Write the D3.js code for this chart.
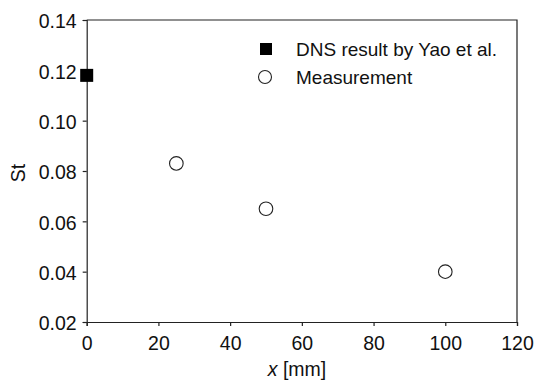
<!DOCTYPE html>
<html>
<head>
<meta charset="utf-8">
<script src="https://cdn.jsdelivr.net/npm/d3@7"></script>
<style>
  body { margin: 0; background: #fff; }
  svg { display: block; font-family: "Liberation Sans", Arial, sans-serif; }
</style>
</head>
<body>
<svg id="chart"></svg>
<script>
const width = 536;
const height = 382;

// data
const dnsX = [0];
const dnsSt = [0.118];
const measX = [25, 50, 100];
const measSt = [0.083, 0.065, 0.040];
const xTicks = [0, 20, 40, 60, 80, 100, 120];
const yTicks = [0.02, 0.04, 0.06, 0.08, 0.10, 0.12, 0.14];
const legendLabels = ['DNS result by Yao et al.', 'Measurement'];

const plotLeft = 86.7, plotRight = 517, plotTop = 20, plotBottom = 322;
const ink = '#222';
const fontSize = '19.5px';

const svg = d3.select('#chart')
    .attr('width', width)
    .attr('height', height);

const x = d3.scaleLinear().domain([0, 120]).range([plotLeft, plotRight]);
const y = d3.scaleLinear().domain([0.02, 0.14]).range([plotBottom, plotTop]);

// frame (top and right borders)
svg.append('path')
    .attr('d', `M${plotLeft},${plotTop}H${plotRight}V${plotBottom}`)
    .attr('fill', 'none')
    .attr('stroke', ink)
    .attr('stroke-width', 1.2);

const xAxis = svg.append('g')
    .attr('transform', `translate(0, ${plotBottom})`)
    .call(d3.axisBottom(x).tickValues(xTicks).tickSize(4).tickPadding(10).tickFormat(d3.format('d')));

const yAxis = svg.append('g')
    .attr('transform', `translate(${plotLeft}, 0)`)
    .call(d3.axisLeft(y).tickValues(yTicks).tickSize(4).tickPadding(6).tickFormat(d3.format('.2f')));

[xAxis, yAxis].forEach(a => {
    a.attr('font-size', null).attr('font-family', null);
    a.select('.domain').attr('stroke', ink).attr('stroke-width', 1.2);
    a.selectAll('.tick line').attr('stroke', ink).attr('stroke-width', 1.2);
    a.selectAll('.tick text')
        .attr('fill', '#111')
        .style('font-size', fontSize);
});
yAxis.selectAll('.tick text').attr('dy', '0.4em');

// axis titles
const xTitle = svg.append('text')
    .attr('x', 297)
    .attr('y', 376)
    .attr('text-anchor', 'middle')
    .style('font-size', fontSize)
    .attr('fill', '#111');
xTitle.append('tspan').style('font-style', 'italic').text('x');
xTitle.append('tspan').text(' [mm]');

svg.append('text')
    .attr('transform', 'translate(25, 173) rotate(-90)')
    .attr('text-anchor', 'middle')
    .style('font-size', fontSize)
    .attr('fill', '#111')
    .text('St');

// measurements
svg.selectAll('circle.meas')
    .data(measX.map((d, i) => ({x: d, st: measSt[i]})))
    .enter()
    .append('circle')
    .attr('class', 'meas')
    .attr('cx', d => x(d.x))
    .attr('cy', d => y(d.st))
    .attr('r', 6.8)
    .attr('fill', '#fff')
    .attr('stroke', ink)
    .attr('stroke-width', 1.1);

// DNS result
const sq = 13;
svg.selectAll('rect.dns')
    .data(dnsX.map((d, i) => ({x: d, st: dnsSt[i]})))
    .enter()
    .append('rect')
    .attr('class', 'dns')
    .attr('x', d => x(d.x) - sq / 2)
    .attr('y', d => y(d.st) - sq / 2)
    .attr('width', sq)
    .attr('height', sq)
    .attr('fill', '#000');

// legend
const legend = svg.append('g').attr('transform', 'translate(266, 49)');
legend.append('rect')
    .attr('x', -6).attr('y', -6).attr('width', 12).attr('height', 12)
    .attr('fill', '#000');
legend.append('circle')
    .attr('cx', -1).attr('cy', 28).attr('r', 6.5)
    .attr('fill', '#fff').attr('stroke', ink).attr('stroke-width', 1.1);
legend.selectAll('text')
    .data(legendLabels)
    .enter()
    .append('text')
    .attr('x', 30)
    .attr('y', (d, i) => i * 28)
    .attr('dy', '0.36em')
    .style('font-size', '19px')
    .attr('fill', '#111')
    .text(d => d);
</script>
</body>
</html>
